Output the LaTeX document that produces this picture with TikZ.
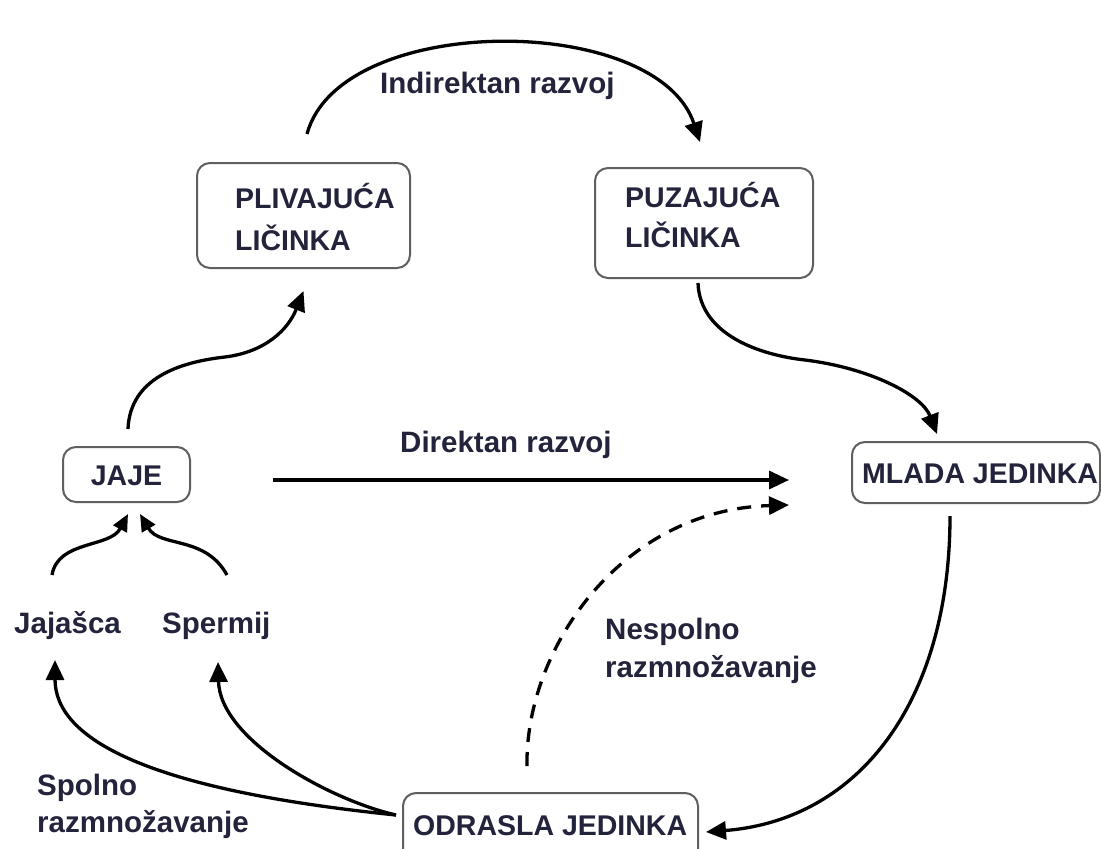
\documentclass[tikz,border=0pt]{standalone}
\usepackage{fontspec}
\setmainfont{Liberation Sans}
\usetikzlibrary{arrows.meta,calc}
\definecolor{txt}{RGB}{35,35,60}
\definecolor{boxc}{RGB}{95,95,95}
\begin{document}
\begin{tikzpicture}[x=1pt,y=-1pt,
  lbl/.style={font=\fontsize{29.5}{38}\selectfont\bfseries, text=txt, inner sep=0pt, anchor=base west, align=left},
  btxt/.style={lbl, font=\fontsize{28.5}{40}\selectfont\bfseries},
  stage/.style={draw=boxc, line width=2pt, rounded corners=13pt, inner sep=0pt, fill=white},
  arr/.style={line width=3.3pt, -{Triangle[length=20pt,width=18pt]}},
  sarr/.style={line width=3.3pt, -{Triangle[length=17pt,width=15pt]}},
  dsh/.style={line width=3.3pt, dash pattern=on 14pt off 10pt, -{Triangle[length=20pt,width=18pt]}}
]
\clip (0,0) rectangle (1101,849);
\fill[white] (0,0) rectangle (1101,849);

% boxes
\node[stage, minimum width=213pt, minimum height=105pt] (pliv) at (303.5,215.5) {};
\node[stage, minimum width=218pt, minimum height=110pt] (puz) at (704,223) {};
\node[stage, minimum width=127pt, minimum height=55pt] (jaje) at (126.5,474.5) {};
\node[stage, minimum width=248pt, minimum height=61pt] (mlada) at (976,472.5) {};
\node[stage, minimum width=295pt, minimum height=74pt] (odrasla) at (550.5,830) {};

% box texts (base = baseline of last line)
\node[btxt, font=\fontsize{28.5}{42}\selectfont\bfseries] (plivt) at (235,250) {PLIVAJUĆA\\LIČINKA};
\node[btxt, font=\fontsize{28.5}{40}\selectfont\bfseries] (puzt) at (625,247) {PUZAJUĆA\\LIČINKA};
\node[btxt, anchor=base] (jajet) at (126.5,485) {JAJE};
\node[btxt] (mladat) at (862,483) {MLADA JEDINKA};
\node[btxt] (odraslat) at (413,835) {ODRASLA JEDINKA};

% labels
\node[lbl] (indir) at (380,93) {Indirektan razvoj};
\node[lbl] (dir) at (400,452) {Direktan razvoj};
\node[lbl] (jaj) at (14,633) {Jajašca};
\node[lbl] (sperm) at (162,633) {Spermij};
\node[lbl] (nesp) at (605,677) {Nespolno\\razmnožavanje};
\node[lbl, font=\fontsize{29.5}{37}\selectfont\bfseries] (spol) at (37,832) {Spolno\\razmnožavanje};

% connector ends
\coordinate (i1) at ($(pliv.north)+(3.5,-28)$);
\coordinate (i2) at ($(puz.north)+(-4,-25)$);
\coordinate (p1) at ($(jaje.north)+(1.5,-17)$);
\coordinate (p2) at ($(pliv.south)+(0,22)$);
\coordinate (z1) at ($(puz.south)+(-6,4)$);
\coordinate (z2) at ($(mlada.north)+(-39,-7)$);
\coordinate (d1) at ($(jaje.east)+(82,5.5)$);
\coordinate (d2) at ($(mlada.west)+(-62,7.5)$);
\coordinate (n1) at ($(odrasla.north)+(-23.5,-26)$);
\coordinate (n2) at ($(mlada.west)+(-62,32.5)$);
\coordinate (m1) at ($(mlada.south)+(-26,12)$);
\coordinate (m2) at ($(odrasla.east)+(7,2)$);
\coordinate (o1) at ($(odrasla.west)+(-6,-15)$);
\coordinate (oj) at ($(jaj.base west)+(41,27)$);
\coordinate (os) at ($(sperm.base west)+(56,29)$);
\coordinate (j1) at ($(jaj.base west)+(38,-58)$);
\coordinate (j2) at ($(jaje.south)+(1.5,11)$);
\coordinate (s1) at ($(sperm.base west)+(65,-58)$);
\coordinate (s2) at ($(jaje.south)+(13.5,11)$);

% connectors
\draw[arr] (i1) .. controls (340,12) and (657,12) .. (i2);
\draw[arr] (p1) .. controls (130,378) and (180,362) .. (225,357) .. controls (265,352) and (288,330) .. (p2);
\draw[arr] (z1) .. controls (700,335) and (760,355) .. (805,360) .. controls (870,368) and (922,395) .. (z2);
\draw[arr] (d1) -- (d2);
\draw[dsh] (n1) .. controls (525,650) and (620,510) .. (n2);
\draw[arr] (m1) .. controls (950,700) and (860,820) .. (m2);
\draw[arr] (o1) .. controls (150,790) and (55,740) .. (oj);
\draw[arr] (o1) .. controls (330,800) and (220,740) .. (os);
\draw[sarr] (j1) .. controls (58,540) and (110,548) .. (j2);
\draw[sarr] (s1) .. controls (205,535) and (160,548) .. (s2);
\end{tikzpicture}
\end{document}
